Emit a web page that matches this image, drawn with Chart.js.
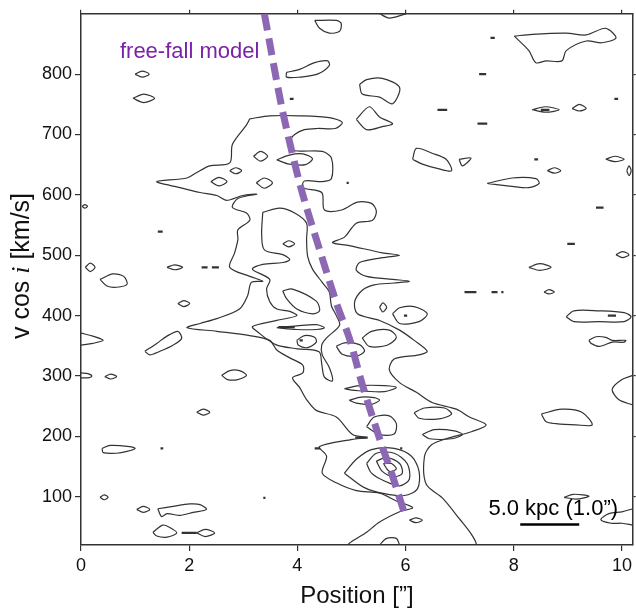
<!DOCTYPE html>
<html>
<head>
<meta charset="utf-8">
<script src="https://cdn.jsdelivr.net/npm/chart.js@4.4.1/dist/chart.umd.min.js"></script>
<style>
  html, body { margin: 0; padding: 0; background: #fff; }
  #wrap { width: 636px; height: 611px; }
</style>
</head>
<body>
<div id="wrap"><canvas id="pv" width="636" height="611"></canvas></div>
<script>
// axes
const xRange = [0, 10.2];
const yRange = [20, 900];
const xTicks = [0, 2, 4, 6, 8, 10];
const yTicks = [100, 200, 300, 400, 500, 600, 700, 800];

// free-fall model curve (position ["], v cos i [km/s])
const freeFallX = [3.39, 3.71, 3.97, 4.13, 4.37, 4.74, 4.96, 5.20, 5.55, 5.76, 6.01];
const freeFallY = [900, 746, 645, 591, 521, 416, 363, 286, 188, 134, 64];

// lowest contour around the main emission band
const outerContour = [
  [3.12,726],[3.49,731],[4.04,731],[4.59,728],[4.83,720],[4.70,710],[4.37,710],[4.13,708],[3.95,700],
  [3.87,689],[3.93,674],[4.46,672],[4.63,661],[4.63,627],[4.46,622],[4.13,623],[4.10,612],[4.45,604],
  [4.50,575],[4.82,575],[5.11,588],[5.37,586],[5.46,573],[5.39,558],[5.09,553],[4.87,530],[4.65,521],
  [4.96,516],[5.57,504],[5.89,500],[5.57,496],[5.15,488],[5.09,475],[5.28,465],[5.76,460],[6.07,457],
  [5.79,454],[5.42,451],[5.20,442],[5.06,423],[5.11,403],[5.52,392],[5.89,376],[6.16,359],[6.40,341],
  [6.25,335],[5.79,328],[5.70,310],[5.89,289],[6.20,273],[6.49,256],[6.94,245],[7.18,232],[7.49,219],
  [7.23,208],[6.75,196],[6.48,186],[6.35,167],[6.38,121],[6.68,98],[6.99,64],[7.23,36],[7.29,20],
  [4.96,20],[5.28,41],[5.52,58],[5.89,75],[6.13,82],[5.83,93],[5.52,106],[5.09,110],[4.72,123],
  [4.46,139],[4.54,167],[4.41,183],[5.02,195],[5.28,198],[5.02,203],[4.72,232],[4.35,243],[4.17,261],
  [4.04,281],[3.91,297],[4.10,305],[4.10,318],[3.86,330],[3.62,343],[3.49,359],[3.12,367],[2.51,374],
  [1.96,380],[2.20,387],[2.51,395],[2.93,411],[3.08,433],[3.15,455],[3.36,457],[3.12,465],[2.75,480],
  [2.84,504],[2.90,526],[2.90,542],[3.12,558],[3.06,570],[2.80,579],[2.90,594],[3.25,601],[2.99,599],
  [2.69,591],[2.51,599],[2.20,604],[1.83,612],[1.40,622],[1.96,628],[2.14,637],[2.38,648],[2.75,653],
  [2.80,684],[3.06,716]
];

// second contour inside the band
const innerContour = [
  [3.36,571],[3.67,578],[3.95,570],[4.17,553],[4.17,526],[4.19,498],[4.28,477],[4.46,455],[4.59,439],
  [4.63,416],[4.72,400],[4.78,384],[4.54,363],[4.45,351],[4.46,335],[4.59,314],[4.65,292],[4.50,298],
  [4.45,320],[4.40,340],[4.00,345],[3.60,352],[3.25,374],[3.17,382],[3.62,392],[3.99,400],[3.86,407],
  [3.62,411],[3.49,423],[3.43,444],[3.49,460],[3.17,477],[3.36,485],[3.73,488],[3.86,493],[3.73,501],
  [3.39,509],[3.34,534]
];

// nested contours of the bright knot near 5.7", 150 km/s
const knotContours = [
  [[4.87,139],[5.09,162],[5.37,178],[5.79,180],[6.11,167],[6.25,142],[6.22,113],[5.98,102],[5.61,105],[5.24,115]],
  [[5.28,155],[5.46,172],[5.79,172],[6.03,155],[6.07,129],[5.89,118],[5.61,126],[5.37,139]],
  [[5.46,159],[5.66,165],[5.89,155],[5.94,139],[5.79,133],[5.57,142]],
  [[5.59,155],[5.74,155],[5.83,146],[5.70,142]]
];

// closed islands
const islands = [
  [[4.32,889],[4.41,876],[4.59,868],[4.78,871],[4.81,884],[4.72,889]],
  [[3.80,803],[4.04,808],[4.32,819],[4.56,822],[4.59,814],[4.37,800],[4.04,795],[3.80,795]],
  [[5.15,783],[5.28,791],[5.57,793],[5.89,778],[5.76,751],[5.52,762],[5.20,767]],
  [[5.09,725],[5.33,746],[5.52,729],[5.76,718],[5.57,713],[5.28,708]],
  [[6.13,659],[6.20,677],[6.49,669],[6.75,659],[6.85,640],[6.62,643],[6.31,651]],
  [[6.99,659],[7.21,661],[7.05,648]],
  [[7.51,619],[7.97,628],[8.41,627],[8.47,619],[8.28,612],[7.97,614]],
  [[8.01,863],[8.34,866],[8.97,868],[9.34,865],[9.70,876],[9.89,860],[9.63,852],[9.34,855],[8.97,839],
   [8.89,822],[8.60,822],[8.41,819],[8.28,839]],
  [[1.00,800],[1.13,805],[1.26,800],[1.13,795]],
  [[0.96,760],[1.16,767],[1.36,760],[1.16,753]],
  [[3.19,664],[3.32,672],[3.45,664],[3.32,656]],
  [[3.62,658],[3.85,666],[4.10,668],[4.28,660],[4.15,650],[3.85,651]],
  [[2.75,640],[2.86,645],[2.97,640],[2.86,635]],
  [[2.40,622],[2.55,629],[2.70,622],[2.55,615]],
  [[3.24,620],[3.39,628],[3.54,620],[3.39,611]],
  [[3.73,519],[3.84,524],[3.95,519],[3.84,514]],
  [[0.08,480],[0.17,487],[0.26,480],[0.17,473]],
  [[0.35,460],[0.59,469],[0.79,465],[0.85,452],[0.66,447],[0.48,449]],
  [[8.34,741],[8.59,746],[8.84,741],[8.59,737]],
  [[9.08,743],[9.21,750],[9.34,743],[9.21,739]],
  [[9.70,659],[9.87,664],[10.04,659],[9.87,655]],
  [[8.62,640],[8.75,645],[8.87,640],[8.75,636]],
  [[10.09,640],[10.13,648],[10.17,640],[10.13,632]],
  [[9.89,501],[10.01,506],[10.13,501],[10.01,496]],
  [[8.28,480],[8.48,486],[8.69,480],[8.48,475]],
  [[8.56,439],[8.65,443],[8.75,439],[8.65,436]],
  [[1.79,420],[1.90,425],[2.01,420],[1.90,415]],
  [[1.18,341],[1.40,354],[1.59,366],[1.79,374],[1.86,362],[1.70,351],[1.46,341],[1.27,335]],
  [[0.44,299],[0.55,303],[0.66,299],[0.55,295]],
  [[2.60,301],[2.75,309],[2.93,309],[3.06,301],[2.90,294],[2.71,294]],
  [[2.14,240],[2.26,245],[2.38,240],[2.26,235]],
  [[0.39,180],[0.54,185],[0.90,183],[1.00,180],[0.85,175],[0.66,172],[0.41,173]],
  [[0.35,99],[0.43,103],[0.50,99],[0.43,95]],
  [[1.03,79],[1.15,84],[1.27,79],[1.15,74]],
  [[1.42,80],[1.70,84],[2.01,88],[2.20,87],[2.32,79],[2.07,74],[1.83,69],[1.59,72],[1.49,67]],
  [[1.33,41],[1.51,53],[1.64,49],[1.77,40],[1.59,33],[1.40,35]],
  [[2.14,40],[2.30,46],[2.47,40],[2.30,34]],
  [[8.97,398],[9.11,408],[9.58,408],[10.04,405],[10.17,398],[10.04,390],[9.58,390],[9.11,390]],
  [[9.39,359],[9.52,365],[9.70,364],[9.82,359],[10.07,359],[10.04,356],[9.82,356],[9.58,349],[9.43,354]],
  [[8.51,237],[8.89,245],[9.26,240],[9.45,219],[9.15,219],[8.78,221],[8.60,224]],
  [[8.93,99],[9.10,104],[9.39,101],[9.15,96]],
  [[6.07,61],[6.19,65],[6.31,61],[6.19,57]],
  [[6.16,239],[6.35,247],[6.72,247],[6.85,237],[6.62,229],[6.25,230]],
  [[6.31,203],[6.53,211],[6.90,209],[7.05,203],[6.85,196],[6.44,196]],
  [[5.52,414],[5.58,421],[5.65,414],[5.58,406]],
  [[5.76,403],[5.89,413],[6.16,415],[6.40,403],[6.25,390],[5.89,387]],
  [[5.20,363],[5.37,374],[5.70,376],[5.83,364],[5.66,351],[5.33,349]],
  [[3.99,359],[4.13,367],[4.32,364],[4.35,356],[4.19,347],[4.02,351]],
  [[4.72,349],[4.87,355],[5.15,352],[5.24,341],[5.09,333],[4.83,336]],
  [[4.87,279],[5.15,284],[5.61,284],[5.83,281],[5.61,274],[5.06,276]],
  [[4.96,260],[5.18,265],[5.42,264],[5.52,260],[5.37,253],[5.09,255]],
  [[5.28,216],[5.42,232],[5.70,234],[5.83,221],[5.79,204],[5.52,203]],
  [[3.73,441],[3.91,444],[4.35,424],[4.41,408],[4.28,403],[3.99,411],[3.80,428]],
  [[3.62,380],[3.99,383],[4.35,385],[4.50,380],[4.35,377],[3.99,377]],
  [[1.59,480],[1.73,484],[1.88,480],[1.73,476]],
  [[0.02,581],[0.07,584],[0.12,581],[0.07,578]]
];

// contours cut by the frame
const edgeContours = [
  [[5.52,900],[5.70,893],[6.01,900]],
  [[0,371],[0.22,366],[0.41,359],[0.22,354],[0,351]],
  [[0,305],[0.13,304],[0.20,300],[0.13,297],[0,297]],
  [[10.2,301],[10.0,294],[9.82,278],[9.94,261],[10.2,252]],
  [[10.2,80],[10.0,75],[9.76,72],[9.61,62],[9.80,56],[10.0,56],[10.2,53]],
  [[5.52,20],[5.65,31],[5.83,31],[5.89,20]]
];

// very small contours: [x from, x to, v]
const specks = [
  [7.57,7.65,860],[7.36,7.49,800],[6.59,6.77,741],[7.33,7.51,718],[9.86,9.93,759],[3.86,3.93,759],
  [8.38,8.45,659],[4.91,4.95,620],[9.52,9.66,579],[8.99,9.13,519],[7.09,7.31,439],[7.59,7.70,439],
  [7.77,7.81,439],[1.42,1.51,539],[2.23,2.34,480],[2.42,2.55,480],[1.47,1.52,180],[4.32,4.42,180],
  [5.90,5.94,180],[3.37,3.41,98],[9.74,9.89,400],[5.97,6.03,400],[4.04,4.10,359],[1.86,2.14,40],
  [5.07,5.30,198],[8.50,8.66,741],[3.65,3.95,381]
];

const scaleBarX = [8.12, 9.21];
const scaleBarY = 54;

const FONT = '"Liberation Sans", Arial, Helvetica, sans-serif';
const pts = arr => arr.map(([x, y]) => ({ x, y }));
const closed = arr => pts(arr.concat([arr[0]]));
const contourLine = (data, width) => ({
  data, showLine: true, pointRadius: 0, borderColor: '#333', borderWidth: width || 1.2,
  tension: 0.3, fill: false, order: 2
});

const datasets = [];
datasets.push({
  data: freeFallX.map((x, i) => ({ x, y: freeFallY[i] })),
  showLine: true, pointRadius: 0, borderColor: '#8c68b4', borderWidth: 7,
  borderDash: [17, 8], borderCapStyle: 'butt', tension: 0.3, fill: false, order: 0
});
datasets.push(contourLine(closed(outerContour)));
datasets.push(contourLine(closed(innerContour)));
knotContours.forEach(c => datasets.push(contourLine(closed(c))));
islands.forEach(c => datasets.push(contourLine(closed(c))));
edgeContours.forEach(c => datasets.push(contourLine(pts(c))));
specks.forEach(([a, b, v]) => datasets.push(contourLine([{ x: a, y: v }, { x: b, y: v }], 2.2)));
datasets.push({
  data: scaleBarX.map(x => ({ x, y: scaleBarY })),
  showLine: true, pointRadius: 0, borderColor: '#000', borderWidth: 2.5, order: 1
});

const textPlugin = {
  id: 'texts',
  afterDraw(chart) {
    const { ctx, chartArea: a, scales: { x, y } } = chart;
    ctx.save();
    ctx.textBaseline = 'alphabetic';

    ctx.fillStyle = '#7a22a8';
    ctx.font = '22px ' + FONT;
    ctx.textAlign = 'left';
    ctx.fillText('free-fall model', x.getPixelForValue(0.72), y.getPixelForValue(826));

    ctx.fillStyle = '#000';
    ctx.font = '22px ' + FONT;
    ctx.textAlign = 'center';
    ctx.fillText('5.0 kpc (1.0\u201d)', x.getPixelForValue(8.73), y.getPixelForValue(69));

    ctx.fillStyle = '#111';
    ctx.font = '24px ' + FONT;
    ctx.fillText('Position [\u201d]', (a.left + a.right) / 2, 603);

    // y title with italic i
    const parts = [['v cos ', '25px ' + FONT], ['i', 'italic 26px "Liberation Serif", serif'], [' [km/s]', '25px ' + FONT]];
    let w = 0;
    parts.forEach(([t, f]) => { ctx.font = f; w += ctx.measureText(t).width; });
    ctx.translate(29, 266);
    ctx.rotate(-Math.PI / 2);
    ctx.textAlign = 'left';
    let cx = -w / 2;
    parts.forEach(([t, f]) => { ctx.font = f; ctx.fillText(t, cx, 0); cx += ctx.measureText(t).width; });
    ctx.restore();
  }
};

const axisStyle = {
  border: { color: '#333', width: 1.5 },
  grid: { drawOnChartArea: false, color: '#333', lineWidth: 1.2, tickLength: 6 }
};

new Chart(document.getElementById('pv'), {
  type: 'scatter',
  data: { datasets },
  options: {
    responsive: false,
    devicePixelRatio: 1,
    animation: false,
    layout: { padding: 0 },
    plugins: { legend: { display: false }, tooltip: { enabled: false } },
    scales: {
      x: {
        type: 'linear', position: 'bottom', min: xRange[0], max: xRange[1],
        afterBuildTicks: s => { s.ticks = xTicks.map(v => ({ value: v })); },
        ticks: { color: '#111', font: { size: 18, family: FONT }, padding: 4, maxRotation: 0 },
        afterFit: s => { s.height = 66; },
        ...axisStyle
      },
      y: {
        type: 'linear', position: 'left', min: yRange[0], max: yRange[1],
        afterBuildTicks: s => { s.ticks = yTicks.map(v => ({ value: v })); },
        ticks: { color: '#111', font: { size: 18, family: FONT }, padding: 3 },
        afterFit: s => { s.width = 81; },
        ...axisStyle
      },
      x2: {
        type: 'linear', position: 'top', min: xRange[0], max: xRange[1],
        afterBuildTicks: s => { s.ticks = xTicks.map(v => ({ value: v })); },
        ticks: { display: false },
        afterFit: s => { s.height = 5; },
        border: axisStyle.border,
        grid: { drawOnChartArea: false, color: '#333', lineWidth: 1.2, tickLength: 4 }
      },
      y2: {
        type: 'linear', position: 'right', min: yRange[0], max: yRange[1],
        afterBuildTicks: s => { s.ticks = yTicks.map(v => ({ value: v })); },
        ticks: { display: false },
        afterFit: s => { s.width = 2; },
        border: axisStyle.border,
        grid: { drawOnChartArea: false, color: '#333', lineWidth: 1.2, tickLength: 3 }
      }
    }
  },
  plugins: [textPlugin]
});
</script>
</body>
</html>
